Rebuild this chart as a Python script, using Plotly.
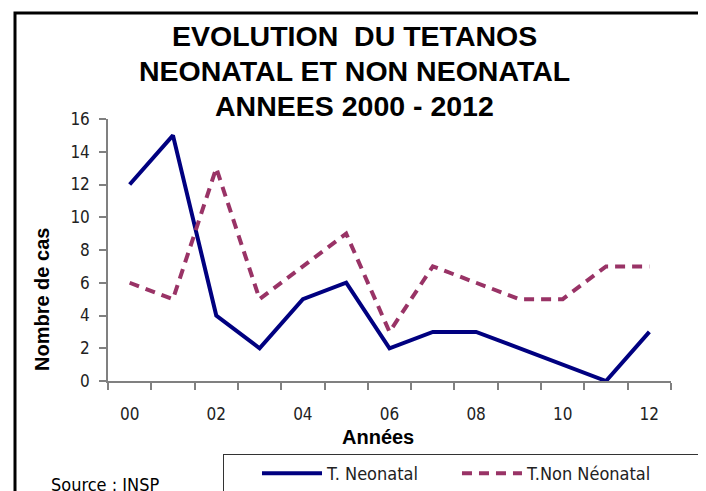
import plotly.graph_objects as go

years = ['00', '01', '02', '03', '04', '05', '06', '07', '08', '09', '10', '11', '12']
neonatal = [12, 15, 4, 2, 5, 6, 2, 3, 3, 2, 1, 0, 3]
non_neonatal = [6, 5, 13, 5, 7, 9, 3, 7, 6, 5, 5, 7, 7]
y_ticks = [0, 2, 4, 6, 8, 10, 12, 14, 16]

x_pos = list(range(len(years)))

# the page body has an 8px margin, so the figure sits 8px right/down of the screen corner
OFF = 8
W, H = 706, 491
L, R, T, B = 100, 43, 111, 118
pw, ph = W - L - R, H - T - B


# helpers to place things by screen pixel position
def px_x(p):
    return (p - OFF - L) / pw


def px_y(p):
    return (H - B - (p - OFF)) / ph


font = 'Liberation Sans, Arial, sans-serif'
narrow = 'DejaVu Sans Condensed, Liberation Sans Narrow, Liberation Sans, sans-serif'


def note(text, x, y, size, bold=False, fam=font, **kw):
    return dict(text='<b>' + text + '</b>' if bold else text, x=px_x(x), y=px_y(y),
                xref='paper', yref='paper', showarrow=False,
                xanchor=kw.pop('xanchor', 'center'), yanchor=kw.pop('yanchor', 'middle'),
                font=dict(family=fam, size=size, color='black'), **kw)


fig = go.Figure()
fig.add_trace(go.Scatter(x=x_pos, y=neonatal, mode='lines', name='T. Neonatal',
                         line=dict(color='#000080', width=4)))
# trailing non-breaking spaces widen the legend box like the original
fig.add_trace(go.Scatter(x=x_pos, y=non_neonatal, mode='lines', name='T.Non Néonatal' + '\u00a0' * 11,
                         line=dict(color='#993366', width=4, dash='10px,7px')))

title_lines = ['EVOLUTION  DU TETANOS', 'NEONATAL ET NON NEONATAL', 'ANNEES 2000 - 2012']
annotations = [note(line, 354, 36 + i * 35, 28.5, bold=True) for i, line in enumerate(title_lines)]
annotations.append(note('Nombre de cas', 42, 300, 20, bold=True, textangle=-90))
annotations.append(note('Années', 378, 437, 20, bold=True))
annotations.append(note('Source : INSP', 49, 472, 18, fam=narrow, xanchor='left', yanchor='top'))

fig.update_layout(
    width=W, height=H,
    margin=dict(l=L, r=R, t=T, b=B, autoexpand=False),
    paper_bgcolor='white', plot_bgcolor='white',
    showlegend=True,
    legend=dict(orientation='h', x=px_x(223), y=px_y(454), xanchor='left', yanchor='top',
                bordercolor='#333', borderwidth=1, indentation=33, itemwidth=60,
                font=dict(family=narrow, size=18, color='#222')),
    annotations=annotations,
    shapes=[dict(type='rect', xref='paper', yref='paper',
                 x0=px_x(15), x1=px_x(701), y0=px_y(530), y1=px_y(13),
                 line=dict(color='black', width=3), fillcolor='rgba(0,0,0,0)', layer='below')],
)

fig.update_xaxes(range=[-0.5, 12.5], tickvals=x_pos[::2], ticktext=years[::2],
                 ticks='', ticklabelstandoff=17, showgrid=False, zeroline=False,
                 showline=True, linecolor='#808080', linewidth=1.5,
                 tickfont=dict(family=narrow, size=17, color='#222'),
                 minor=dict(tick0=-0.5, dtick=1, ticks='outside', ticklen=7, tickcolor='#808080',
                            tickwidth=1.5, showgrid=False))
fig.update_yaxes(range=[0, 16], tickvals=y_ticks, ticks='outside', ticklen=7, tickwidth=1.5,
                 tickcolor='#808080', ticklabelstandoff=6,
                 showgrid=False, zeroline=False, showline=True, linecolor='#808080', linewidth=1.5,
                 tickfont=dict(family=narrow, size=17, color='#222'))

fig.write_html('out.html')
